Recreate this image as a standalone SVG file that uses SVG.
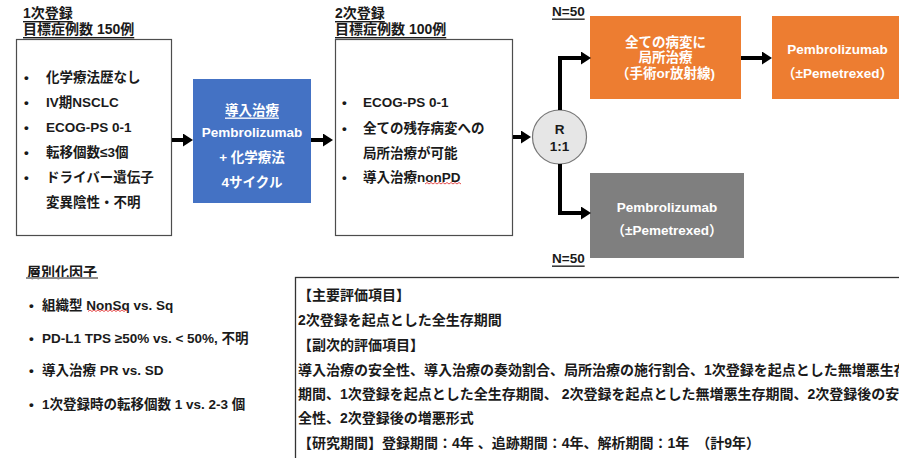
<svg xmlns="http://www.w3.org/2000/svg" width="899" height="458" viewBox="0 0 899 458">
<defs>
<style>
text{font-family:"Liberation Sans","Noto Sans CJK JP",sans-serif;font-weight:bold;fill:#1a1a1a;dominant-baseline:central}
.t14{font-size:14px}
.t13{font-size:13.5px}
.w{fill:#ffffff}
.c{text-anchor:middle}
.u{text-decoration:underline}
.box{fill:#ffffff;stroke:#4d4d4d;stroke-width:1.2}
.conn{fill:none;stroke:#000;stroke-width:4;marker-end:url(#ah)}
.sq{fill:none;stroke:#e23b3b;stroke-width:0.9}
</style>
<marker id="ah" markerUnits="userSpaceOnUse" markerWidth="10" markerHeight="13" refX="0" refY="6.5" orient="auto">
<path d="M0,0 L10,6.5 L0,13 z" fill="#000"/>
</marker>
</defs>
<rect width="899" height="458" fill="#ffffff"/>

<g id="primary">
<text class="t14 u" x="23" y="13">1次登録</text>
<text class="t14 u" x="23" y="29">目標症例数 150例</text>
<rect class="box" x="16.5" y="39.5" width="155" height="196"/>
<text class="t13" x="24" y="77">•</text><text class="t13" x="46" y="77">化学療法歴なし</text>
<text class="t13" x="24" y="102">•</text><text class="t13" x="46" y="102">IV期NSCLC</text>
<text class="t13" x="24" y="127">•</text><text class="t13" x="46" y="127">ECOG-PS 0-1</text>
<text class="t13" x="24" y="152">•</text><text class="t13" x="46" y="152">転移個数≤3個</text>
<text class="t13" x="24" y="177">•</text><text class="t13" x="46" y="177">ドライバー遺伝子</text>
<text class="t13" x="46" y="202">変異陰性・不明</text>
</g>

<g id="induction">
<rect x="193" y="79" width="118" height="124" fill="#4472c4"/>
<text class="t13 w c u" x="252" y="110">導入治療</text>
<text class="t13 w c" x="252" y="132">Pembrolizumab</text>
<text class="t13 w c" x="252" y="157">+ 化学療法</text>
<text class="t13 w c" x="252" y="182">4サイクル</text>
</g>

<g id="secondary">
<text class="t14 u" x="335" y="13">2次登録</text>
<text class="t14 u" x="335" y="29">目標症例数 100例</text>
<rect class="box" x="335.5" y="39.5" width="177" height="196"/>
<text class="t13" x="342" y="102">•</text><text class="t13" x="363" y="102">ECOG-PS 0-1</text>
<text class="t13" x="342" y="128">•</text><text class="t13" x="363" y="128">全ての残存病変への</text>
<text class="t13" x="363" y="153">局所治療が可能</text>
<text class="t13" x="342" y="177">•</text><text class="t13" x="363" y="177">導入治療nonPD</text>
<path class="sq" d="M425,184 l2,-1.5 l2,1.5 l2,-1.5 l2,1.5 l2,-1.5 l2,1.5 l2,-1.5 l2,1.5 l2,-1.5 l2,1.5 l2,-1.5 l2,1.5 l2,-1.5 l2,1.5 l2,-1.5 l2,1.5 l2,-1.5 l2,1.5"/>
</g>

<g id="randomize">
<circle cx="559.5" cy="137" r="27" fill="#e6e6e6" stroke="#777777" stroke-width="1.2"/>
<text class="t13 c" x="559.5" y="129">R</text>
<text class="t13 c" x="559.5" y="146">1:1</text>
</g>

<g id="local">
<text class="t13 u" x="552" y="11">N=50</text>
<rect x="590" y="16" width="151" height="83" fill="#ed7d31"/>
<text class="t13 w c" x="665.5" y="42">全ての病変に</text>
<text class="t13 w c" x="665.5" y="57">局所治療</text>
<text class="t13 w c" x="665.5" y="73">（手術or放射線)</text>
</g>

<g id="pembro-a">
<rect x="772" y="16" width="131" height="83" fill="#ed7d31"/>
<text class="t13 w c" x="837.5" y="49">Pembrolizumab</text>
<text class="t13 w c" x="837.5" y="73">（±Pemetrexed）</text>
</g>

<g id="pembro-b">
<rect x="590" y="173" width="154" height="85" fill="#7f7f7f"/>
<text class="t13 w c" x="667" y="207">Pembrolizumab</text>
<text class="t13 w c" x="667" y="230">（±Pemetrexed）</text>
<text class="t13 u" x="552" y="258">N=50</text>
</g>

<g id="strata">
<text class="t14" x="27" y="272">層別化因子</text>
<rect x="26" y="277" width="72" height="2" fill="#8c8c8c"/>
<text class="t13" x="29" y="305">•</text><text class="t13" x="42" y="305">組織型 NonSq vs. Sq</text>
<path class="sq" d="M88,311.5 l2,-1.5 l2,1.5 l2,-1.5 l2,1.5 l2,-1.5 l2,1.5 l2,-1.5 l2,1.5 l2,-1.5 l2,1.5 l2,-1.5 l2,1.5 l2,-1.5 l2,1.5 l2,-1.5 l2,1.5 l2,-1.5 l2,1.5 l2,-1.5 l2,1.5"/>
<text class="t13" x="29" y="338">•</text><text class="t13" x="42" y="338">PD-L1 TPS ≥50% vs. &lt; 50%, 不明</text>
<text class="t13" x="29" y="370">•</text><text class="t13" x="42" y="370">導入治療 PR vs. SD</text>
<text class="t13" x="29" y="404">•</text><text class="t13" x="42" y="404">1次登録時の転移個数 1 vs. 2-3 個</text>
</g>

<g id="endpoints">
<rect x="295.5" y="277.5" width="700" height="300" fill="#ffffff" stroke="#333333" stroke-width="1.3"/>
<text class="t14" x="298" y="295">【主要評価項目】</text>
<text class="t14" x="298" y="320">2次登録を起点とした全生存期間</text>
<text class="t14" x="298" y="345">【副次的評価項目】</text>
<text class="t14" x="298" y="370">導入治療の安全性、導入治療の奏効割合、局所治療の施行割合、1次登録を起点とした無増悪生存</text>
<text class="t14" x="298" y="394">期間、1次登録を起点とした全生存期間、 2次登録を起点とした無増悪生存期間、2次登録後の安</text>
<text class="t14" x="298" y="418">全性、2次登録後の増悪形式</text>
<text class="t14" x="298" y="443">【研究期間】登録期間：4年 、追跡期間：4年、解析期間：1年　（計9年）</text>
</g>

<g id="connectors">
<path class="conn" d="M172,140 H183"/>
<path class="conn" d="M311,140 H323"/>
<path class="conn" d="M513,137 H521"/>
<path class="conn" d="M560,110 V58 H581"/>
<path class="conn" d="M560,164 V213 H581"/>
<path class="conn" d="M741,58 H762"/>
</g>
</svg>
